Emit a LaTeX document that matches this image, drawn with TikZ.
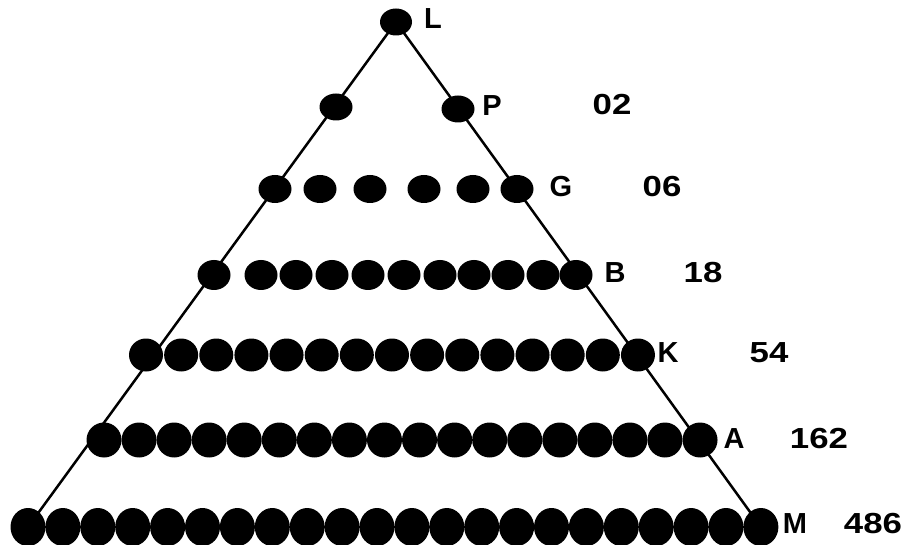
\documentclass[tikz,border=0pt]{standalone}
\usepackage{fontspec}
\setmainfont{Liberation Sans}
\usetikzlibrary{shapes.geometric,backgrounds}
\begin{document}
\begin{tikzpicture}[x=1pt,y=-1pt,
  dot/.style={ellipse,fill=black,inner sep=0pt,minimum width=33pt,minimum height=28pt},
  lbl/.style={font=\fontsize{29}{29}\selectfont\bfseries,inner sep=0pt},
  num/.style={lbl},
  side/.style={line width=2.5pt},
  rowline/.style={line width=1.5pt}]
\useasboundingbox (0,0) rectangle (910,545);
% apex and rows
\node[dot,minimum width=32pt,minimum height=27pt] (l) at (396,22) {};
\node[dot,minimum height=27pt] (p1) at (336,107) {};
\node[dot,minimum height=27pt] (p2) at (458,109) {};
\foreach \x [count=\i] in {275,320,370,424,473,517}
  \node[dot] (g\i) at (\x,189) {};
\foreach \x [count=\i] in {214,261,296,332,368,404,440,474,508,543,576}
  \node[dot,minimum height=30pt] (b\i) at (\x,275) {};
\foreach \i in {1,...,15}
  \node[dot,minimum width=34pt,minimum height=33pt] (k\i) at ({146+(\i-1)*35.14},355) {};
\foreach \i in {1,...,18}
  \node[dot,minimum width=35pt,minimum height=35pt] (a\i) at ({104+(\i-1)*35.06},440) {};
\foreach \i in {1,...,22}
  \node[dot,minimum width=35pt,minimum height=38pt] (m\i) at ({28+(\i-1)*34.9},527) {};
% triangle sides and bottom line
\begin{scope}[on background layer]
  \draw[side] (m1.center) -- (l.center) -- (m22.center);
  \draw[rowline] (m1.center) -- (m22.center);
\end{scope}
% labels
\node[lbl] (tL) at (433,19) {L};
\node[lbl] (tP) at (492,106) {P};
\node[num] (n02) at (612,105) {\scalebox{1.2}[1]{02}};
\node[lbl] (tG) at (561,187) {G};
\node[num] (n06) at (662,187) {\scalebox{1.2}[1]{06}};
\node[lbl] (tB) at (615,273) {B};
\node[num] (n18) at (703,273) {\scalebox{1.2}[1]{18}};
\node[lbl] (tK) at (668,353) {K};
\node[num] (n54) at (769,353) {\scalebox{1.2}[1]{54}};
\node[lbl] (tA) at (734,439) {A};
\node[num] (n162) at (819,439) {\scalebox{1.2}[1]{162}};
\node[lbl] (tM) at (795,524) {M};
\node[num] (n486) at (873,524) {\scalebox{1.2}[1]{486}};
\end{tikzpicture}
\end{document}
